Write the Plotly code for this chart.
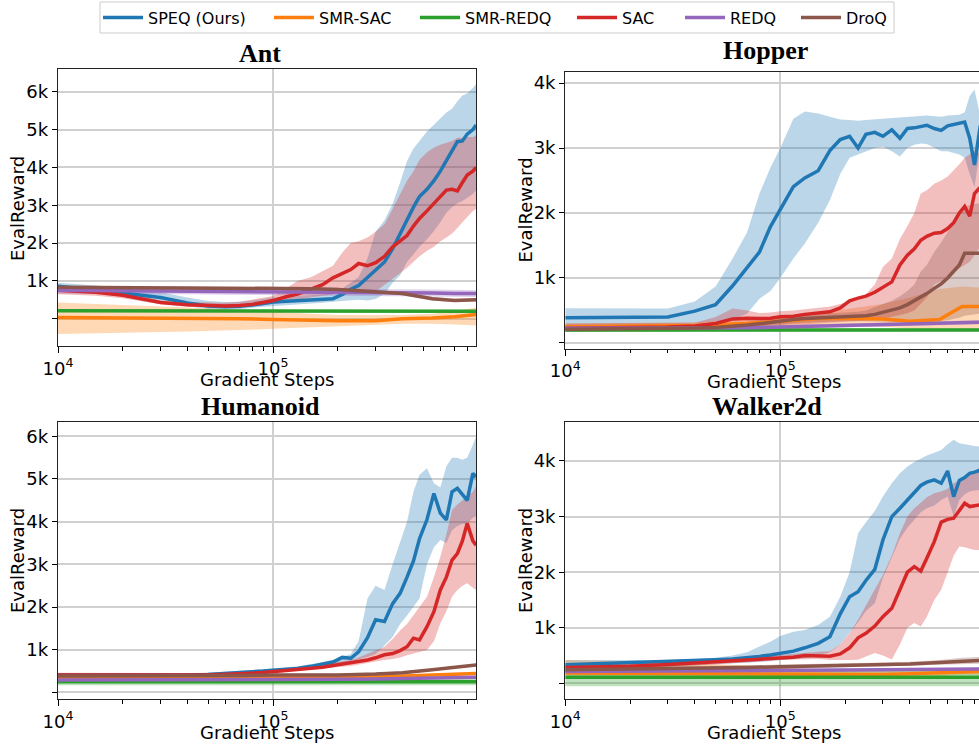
import plotly.graph_objects as go

# ---------------- data ----------------
SERIES = ["SPEQ (Ours)", "SMR-SAC", "SMR-REDQ", "SAC", "REDQ", "DroQ"]
COLORS = ["#1f77b4", "#ff7f0e", "#2ca02c", "#d62728", "#9467bd", "#8c564b"]
FILLS = ["rgba(31,119,180,0.3)", "rgba(255,127,14,0.3)", "rgba(44,160,44,0.3)",
         "rgba(214,39,40,0.3)", "rgba(148,103,189,0.3)", "rgba(140,86,75,0.3)"]
TITLES = ["Ant", "Hopper", "Humanoid", "Walker2d"]
X_TICKS = [10000, 100000]
X_TICKTEXT = ["10<sup>4</sup>", "10<sup>5</sup>"]
X_MINOR = [20000, 30000, 40000, 50000, 60000, 70000, 80000, 90000,
           200000, 300000, 400000, 500000, 600000, 700000, 800000]
Y_TICKS = [1000, 2000, 3000, 4000, 5000, 6000]
Y_TICKTEXT = ["1k", "2k", "3k", "4k", "5k", "6k"]
Y_UNLABELLED = [0]

STEPS_DENSE = [10000, 15000, 20000, 30000, 40000, 50000, 60000, 70000, 80000, 90000,
               100000, 115000, 130000, 150000, 170000, 190000, 210000, 230000, 250000,
               275000, 300000, 330000, 360000, 390000, 420000, 450000, 480000, 520000,
               560000, 600000, 640000, 680000, 720000, 760000, 800000, 850000, 880000]
STEPS_SPARSE = [10000, 20000, 40000, 70000, 100000, 150000, 200000, 300000,
                400000, 550000, 700000, 880000]

# ---- Ant ----
ANT_SPEQ = [860, 760, 680, 560, 420, 340, 320, 330, 360, 400, 440, 460, 480, 490, 510, 530, 640, 780, 880, 1100, 1300, 1500, 1850, 2250, 2600, 2950, 3230, 3420, 3650, 3900, 4180, 4450, 4680, 4700, 4880, 5000, 5120]
ANT_SPEQ_HI = [950, 880, 800, 700, 560, 470, 440, 450, 480, 520, 560, 580, 600, 620, 640, 700, 800, 950, 1100, 1600, 2300, 2600, 3030, 3600, 4170, 4500, 4700, 4950, 5130, 5300, 5450, 5550, 5750, 5900, 5950, 6100, 6200]
ANT_SPEQ_LO = [780, 700, 620, 450, 330, 260, 250, 260, 290, 320, 350, 370, 390, 400, 420, 450, 480, 490, 500, 480, 520, 660, 950, 1150, 1500, 1700, 1900, 2100, 2320, 2550, 2800, 2950, 3050, 3110, 3200, 3300, 3400]
ANT_SAC = [750, 700, 620, 430, 370, 350, 340, 350, 380, 430, 480, 580, 650, 780, 900, 1080, 1200, 1300, 1460, 1400, 1480, 1650, 1900, 2050, 2200, 2450, 2650, 2850, 3050, 3250, 3400, 3420, 3380, 3600, 3800, 3900, 4000]
ANT_SAC_HI = [850, 780, 700, 480, 440, 420, 420, 450, 500, 550, 600, 800, 1000, 1100, 1250, 1400, 1750, 2000, 2050, 2150, 2300, 2500, 2900, 3300, 3650, 3900, 4200, 4400, 4520, 4600, 4650, 4700, 4780, 4780, 4800, 4800, 4850]
ANT_SAC_LO = [650, 610, 540, 380, 320, 300, 290, 300, 320, 360, 400, 440, 480, 560, 600, 640, 680, 700, 700, 680, 720, 900, 1050, 1200, 1350, 1500, 1650, 1800, 1900, 2050, 2150, 2250, 2400, 2550, 2700, 2850, 2900]
ANT_DROQ = [830, 825, 820, 812, 805, 795, 775, 715, 665, 530, 485, 500]
ANT_DROQ_HI = [875, 870, 865, 857, 850, 840, 820, 760, 710, 575, 530, 545]
ANT_DROQ_LO = [785, 780, 775, 767, 760, 750, 730, 670, 620, 485, 440, 455]
ANT_REDQ = [750, 740, 735, 730, 725, 720, 710, 700, 690, 680, 670, 665]
ANT_REDQ_HI = [840, 830, 825, 820, 815, 810, 800, 790, 780, 770, 760, 755]
ANT_REDQ_LO = [660, 650, 645, 640, 635, 630, 620, 610, 600, 590, 580, 575]
ANT_SMRREDQ = [210, 205, 200, 200, 200, 200, 200, 200, 200, 200, 200, 200]
ANT_SMRREDQ_HI = [240, 235, 230, 230, 230, 230, 230, 230, 230, 230, 230, 230]
ANT_SMRREDQ_LO = [180, 175, 170, 170, 170, 170, 170, 170, 170, 170, 170, 170]
ANT_SMRSAC = [30, 25, 15, 0, -20, -40, -55, -50, 0, 20, 50, 110]
ANT_SMRSAC_HI = [430, 370, 300, 230, 175, 130, 100, 90, 100, 130, 200, 300]
ANT_SMRSAC_LO = [-400, -370, -340, -300, -265, -230, -200, -160, -130, -130, -150, -175]

# ---- Hopper ----
HOP_SPEQ = [390, 395, 390, 400, 490, 590, 880, 1150, 1400, 1790, 2050, 2405, 2540, 2650, 2960, 3130, 3180, 3000, 3210, 3240, 3180, 3280, 3150, 3300, 3310, 3330, 3350, 3300, 3270, 3340, 3360, 3380, 3400, 3150, 2740, 3330, 3350]
HOP_SPEQ_HI = [533, 535, 530, 530, 640, 870, 1300, 1700, 2300, 2700, 3000, 3450, 3560, 3530, 3480, 3440, 3430, 3420, 3430, 3440, 3450, 3460, 3470, 3480, 3490, 3500, 3500, 3490, 3480, 3500, 3500, 3510, 3550, 3800, 3900, 3500, 3500]
HOP_SPEQ_LO = [250, 260, 270, 280, 300, 330, 360, 450, 680, 800, 1000, 1300, 1530, 1850, 2200, 2600, 2850, 2900, 2950, 3000, 3020, 2950, 2870, 3000, 3050, 3070, 3060, 3000, 2950, 2950, 2920, 2900, 2850, 2600, 2400, 3000, 3050]
HOP_SAC = [225, 230, 235, 245, 260, 300, 370, 380, 375, 380, 405, 410, 440, 460, 480, 540, 650, 690, 720, 780, 850, 940, 1200, 1350, 1450, 1580, 1640, 1690, 1700, 1760, 1850, 2000, 2100, 1950, 2300, 2400, 2450]
HOP_SAC_HI = [300, 300, 305, 305, 310, 400, 530, 500, 460, 470, 490, 500, 520, 540, 560, 600, 640, 660, 750, 900, 1170, 1300, 1600, 1800, 2000, 2300, 2350, 2450, 2500, 2560, 2650, 2750, 2850, 2900, 2950, 2920, 2920]
HOP_SAC_LO = [175, 178, 180, 185, 190, 200, 230, 250, 260, 270, 280, 285, 290, 300, 310, 320, 330, 340, 345, 354, 370, 400, 430, 456, 500, 600, 700, 900, 950, 1000, 1080, 1150, 1200, 1250, 1350, 1480, 1500]
HOP_DROQ = [210, 212, 215, 220, 230, 240, 255, 275, 295, 320, 340, 360, 375, 385, 395, 400, 405, 410, 420, 440, 470, 500, 540, 590, 650, 710, 760, 840, 910, 1000, 1100, 1200, 1380, 1380, 1380, 1380, 1380]
HOP_DROQ_HI = [260, 262, 265, 270, 280, 290, 305, 325, 350, 380, 400, 420, 435, 445, 455, 465, 475, 480, 500, 550, 600, 650, 720, 800, 900, 1100, 1200, 1400, 1550, 1700, 1850, 2000, 2100, 2120, 2140, 2150, 2150]
HOP_DROQ_LO = [170, 172, 175, 178, 185, 195, 210, 225, 240, 260, 280, 300, 310, 320, 330, 335, 340, 340, 340, 340, 335, 330, 325, 322, 320, 320, 320, 330, 340, 350, 370, 390, 420, 430, 440, 455, 460]
HOP_SMRSAC = [250, 255, 270, 300, 330, 375, 380, 370, 335, 360, 560, 560]
HOP_SMRSAC_HI = [300, 305, 320, 360, 400, 480, 520, 600, 700, 830, 870, 850]
HOP_SMRSAC_LO = [200, 205, 215, 230, 250, 260, 260, 250, 220, 200, 180, 200]
HOP_REDQ = [225, 225, 228, 235, 245, 260, 270, 285, 295, 305, 312, 320]
HOP_REDQ_HI = [255, 255, 258, 265, 275, 290, 300, 315, 325, 335, 342, 350]
HOP_REDQ_LO = [195, 195, 198, 205, 215, 230, 240, 255, 265, 275, 282, 290]
HOP_SMRREDQ = [200, 200, 200, 200, 200, 200, 200, 200, 200, 200, 200, 200]
HOP_SMRREDQ_HI = [225, 225, 225, 225, 225, 225, 225, 225, 225, 225, 225, 225]
HOP_SMRREDQ_LO = [175, 175, 175, 175, 175, 175, 175, 175, 175, 175, 175, 175]

# ---- Humanoid ----
HUM_SPEQ = [406, 400, 398, 400, 405, 420, 440, 460, 480, 500, 520, 540, 560, 610, 660, 710, 820, 800, 950, 1280, 1700, 1660, 2080, 2320, 2700, 3080, 3600, 4050, 4660, 4200, 4040, 4700, 4780, 4650, 4500, 5130, 5050]
HUM_SPEQ_HI = [440, 440, 440, 440, 440, 460, 480, 500, 520, 540, 560, 580, 610, 660, 710, 760, 830, 900, 1200, 2200, 2500, 2400, 3000, 3500, 4000, 4700, 5100, 5250, 4900, 4800, 5300, 5500, 5500, 5450, 5500, 5800, 5990]
HUM_SPEQ_LO = [370, 370, 370, 370, 370, 385, 400, 420, 440, 460, 480, 500, 520, 540, 570, 600, 680, 720, 780, 830, 900, 1100, 1300, 1600, 1800, 2000, 2200, 3000, 3400, 3570, 3500, 3800, 3900, 3950, 3950, 4100, 4120]
HUM_SAC = [410, 405, 400, 400, 405, 410, 420, 435, 450, 465, 485, 510, 535, 560, 590, 630, 660, 690, 720, 760, 810, 880, 910, 980, 1070, 1270, 1230, 1540, 1890, 2400, 2700, 3100, 3250, 3550, 3960, 3550, 3450]
HUM_SAC_HI = [460, 455, 450, 450, 455, 460, 470, 485, 500, 510, 520, 560, 600, 640, 680, 710, 730, 760, 820, 900, 980, 1070, 1250, 1450, 1600, 1800, 2000, 2242, 2700, 3180, 3700, 4273, 4400, 4500, 4586, 4700, 4820]
HUM_SAC_LO = [360, 355, 350, 350, 355, 360, 370, 385, 400, 420, 440, 470, 500, 520, 550, 580, 600, 620, 650, 680, 720, 758, 780, 820, 870, 900, 950, 992, 1200, 1617, 1900, 2242, 2400, 2500, 2555, 2450, 2400]
HUM_DROQ = [383, 383, 385, 395, 406, 406, 410, 430, 460, 530, 580, 640]
HUM_DROQ_HI = [413, 413, 415, 425, 436, 436, 440, 460, 490, 560, 610, 670]
HUM_DROQ_LO = [353, 353, 355, 365, 376, 376, 380, 400, 430, 500, 550, 610]
HUM_SMRSAC = [328, 328, 330, 330, 335, 340, 345, 360, 380, 410, 430, 445]
HUM_SMRSAC_HI = [358, 358, 360, 360, 365, 370, 375, 390, 410, 440, 460, 475]
HUM_SMRSAC_LO = [298, 298, 300, 300, 305, 310, 315, 330, 350, 380, 400, 415]
HUM_REDQ = [290, 290, 290, 292, 295, 300, 305, 315, 325, 335, 345, 352]
HUM_REDQ_HI = [315, 315, 315, 317, 320, 325, 330, 340, 350, 360, 370, 377]
HUM_REDQ_LO = [265, 265, 265, 267, 270, 275, 280, 290, 300, 310, 320, 327]
HUM_SMRREDQ = [250, 250, 250, 250, 250, 250, 250, 250, 250, 250, 250, 250]
HUM_SMRREDQ_HI = [330, 330, 330, 330, 330, 330, 330, 330, 330, 330, 330, 330]
HUM_SMRREDQ_LO = [170, 170, 170, 170, 170, 170, 170, 170, 170, 170, 170, 170]

# ---- Walker2d ----
WAL_SPEQ = [335, 355, 370, 400, 415, 425, 440, 460, 485, 510, 545, 580, 640, 720, 840, 1250, 1560, 1650, 1850, 2050, 2580, 3000, 3150, 3300, 3420, 3560, 3620, 3660, 3600, 3820, 3360, 3650, 3700, 3780, 3800, 3840, 3850]
WAL_SPEQ_HI = [420, 420, 420, 420, 440, 460, 500, 560, 665, 750, 850, 930, 960, 1050, 1200, 1560, 2000, 2700, 2900, 3100, 3360, 3600, 3778, 3900, 3980, 4050, 4100, 4150, 4200, 4300, 4380, 4320, 4300, 4280, 4270, 4260, 4250]
WAL_SPEQ_LO = [250, 260, 270, 300, 320, 350, 360, 370, 380, 400, 420, 440, 450, 500, 560, 700, 900, 1100, 1300, 1440, 1900, 2281, 2600, 2800, 2950, 3080, 3150, 3200, 3300, 3360, 3000, 3300, 3400, 3450, 3470, 3480, 3480]
WAL_SAC = [287, 300, 310, 340, 365, 385, 400, 420, 435, 450, 460, 470, 500, 500, 490, 530, 640, 820, 900, 1030, 1200, 1350, 1680, 2000, 2100, 2020, 2250, 2550, 2900, 2950, 2970, 3100, 3240, 3180, 3200, 3210, 3220]
WAL_SAC_HI = [330, 340, 350, 380, 400, 420, 440, 455, 470, 490, 510, 530, 560, 570, 580, 700, 900, 1144, 1400, 1700, 1950, 2300, 2700, 3000, 3150, 3250, 3350, 3419, 3450, 3500, 3600, 3650, 3700, 3750, 3800, 3900, 3900]
WAL_SAC_LO = [250, 260, 270, 300, 320, 340, 360, 375, 400, 410, 420, 430, 440, 440, 420, 420, 420, 425, 480, 545, 500, 430, 700, 1000, 1084, 1024, 1200, 1500, 1683, 2000, 2300, 2461, 2450, 2420, 2400, 2400, 2400]
WAL_DROQ = [245, 255, 270, 285, 300, 310, 320, 335, 350, 375, 400, 415]
WAL_DROQ_HI = [285, 295, 310, 325, 340, 350, 360, 375, 390, 420, 460, 480]
WAL_DROQ_LO = [205, 215, 230, 245, 260, 270, 280, 295, 310, 330, 345, 355]
WAL_REDQ = [215, 218, 222, 226, 230, 235, 238, 243, 248, 252, 256, 258]
WAL_REDQ_HI = [240, 243, 247, 251, 255, 260, 263, 268, 273, 277, 281, 283]
WAL_REDQ_LO = [190, 193, 197, 201, 205, 210, 213, 218, 223, 227, 231, 233]
WAL_SMRSAC = [186, 180, 175, 170, 165, 160, 158, 160, 175, 195, 210, 215]
WAL_SMRSAC_HI = [420, 400, 360, 320, 280, 250, 240, 240, 250, 260, 270, 280]
WAL_SMRSAC_LO = [100, 100, 100, 100, 100, 100, 100, 100, 110, 130, 150, 150]
WAL_SMRREDQ = [108, 108, 108, 108, 108, 108, 108, 108, 108, 108, 108, 108]
WAL_SMRREDQ_HI = [230, 230, 230, 230, 230, 230, 230, 230, 230, 230, 230, 230]
WAL_SMRREDQ_LO = [-50, -50, -50, -50, -50, -50, -50, -50, -50, -50, -50, -50]

# per panel: list of (x, mean, lo, hi) in SERIES order
PANEL_DATA = [
    [(STEPS_DENSE, ANT_SPEQ, ANT_SPEQ_LO, ANT_SPEQ_HI),
     (STEPS_SPARSE, ANT_SMRSAC, ANT_SMRSAC_LO, ANT_SMRSAC_HI),
     (STEPS_SPARSE, ANT_SMRREDQ, ANT_SMRREDQ_LO, ANT_SMRREDQ_HI),
     (STEPS_DENSE, ANT_SAC, ANT_SAC_LO, ANT_SAC_HI),
     (STEPS_SPARSE, ANT_REDQ, ANT_REDQ_LO, ANT_REDQ_HI),
     (STEPS_SPARSE, ANT_DROQ, ANT_DROQ_LO, ANT_DROQ_HI)],
    [(STEPS_DENSE, HOP_SPEQ, HOP_SPEQ_LO, HOP_SPEQ_HI),
     (STEPS_SPARSE, HOP_SMRSAC, HOP_SMRSAC_LO, HOP_SMRSAC_HI),
     (STEPS_SPARSE, HOP_SMRREDQ, HOP_SMRREDQ_LO, HOP_SMRREDQ_HI),
     (STEPS_DENSE, HOP_SAC, HOP_SAC_LO, HOP_SAC_HI),
     (STEPS_SPARSE, HOP_REDQ, HOP_REDQ_LO, HOP_REDQ_HI),
     (STEPS_DENSE, HOP_DROQ, HOP_DROQ_LO, HOP_DROQ_HI)],
    [(STEPS_DENSE, HUM_SPEQ, HUM_SPEQ_LO, HUM_SPEQ_HI),
     (STEPS_SPARSE, HUM_SMRSAC, HUM_SMRSAC_LO, HUM_SMRSAC_HI),
     (STEPS_SPARSE, HUM_SMRREDQ, HUM_SMRREDQ_LO, HUM_SMRREDQ_HI),
     (STEPS_DENSE, HUM_SAC, HUM_SAC_LO, HUM_SAC_HI),
     (STEPS_SPARSE, HUM_REDQ, HUM_REDQ_LO, HUM_REDQ_HI),
     (STEPS_SPARSE, HUM_DROQ, HUM_DROQ_LO, HUM_DROQ_HI)],
    [(STEPS_DENSE, WAL_SPEQ, WAL_SPEQ_LO, WAL_SPEQ_HI),
     (STEPS_SPARSE, WAL_SMRSAC, WAL_SMRSAC_LO, WAL_SMRSAC_HI),
     (STEPS_SPARSE, WAL_SMRREDQ, WAL_SMRREDQ_LO, WAL_SMRREDQ_HI),
     (STEPS_DENSE, WAL_SAC, WAL_SAC_LO, WAL_SAC_HI),
     (STEPS_SPARSE, WAL_REDQ, WAL_REDQ_LO, WAL_REDQ_HI),
     (STEPS_SPARSE, WAL_DROQ, WAL_DROQ_LO, WAL_DROQ_HI)],
]

# ---------------- layout geometry ----------------
W, H = 979, 746
def px(xp):
    return xp / W
def py(yp):
    return 1 - yp / H

# (left, right, top, bottom) in pixels; y ranges; x ranges (log10)
BOXES = [(58, 476, 69, 346), (565.3, 979, 71.7, 348.7),
         (58, 476, 422.3, 699), (565.3, 979, 422.3, 699)]
Y_RANGES = [[-720, 6600], [-88, 4174], [-155, 6328], [-281, 4696]]
X_RANGES = [[4, 5.944], [4, 5.924], [4, 5.944], [4, 5.924]]
LEGEND_NAMES = ["legend", "legend2", "legend3", "legend4", "legend5", "legend6"]
LEGEND_LINE_X = [104, 275, 421, 578, 686, 802]   # pixel x of each legend key
LEGEND_BOX = (100, 894, 2, 33)

fig = go.Figure()
for p in range(4):
    xa = "x" if p == 0 else f"x{p+1}"
    ya = "y" if p == 0 else f"y{p+1}"
    # shaded bands first
    for s, (xs, mean, lo, hi) in enumerate(PANEL_DATA[p]):
        fig.add_trace(go.Scatter(
            x=list(xs) + list(xs)[::-1], y=list(hi) + list(lo)[::-1],
            fill="toself", fillcolor=FILLS[s], line=dict(width=0),
            mode="lines", hoverinfo="skip", showlegend=False,
            xaxis=xa, yaxis=ya))
    # mean lines on top
    for s, (xs, mean, lo, hi) in enumerate(PANEL_DATA[p]):
        fig.add_trace(go.Scatter(
            x=xs, y=mean, mode="lines", name=SERIES[s],
            line=dict(color=COLORS[s], width=3.5),
            showlegend=(p == 0), legendgroup=SERIES[s],
            legend=LEGEND_NAMES[s], xaxis=xa, yaxis=ya))

tickfont = dict(family="DejaVu Sans", size=18, color="black")
layout = dict(width=W, height=H,
              margin=dict(l=0, r=0, t=0, b=0, pad=0, autoexpand=False),
              paper_bgcolor="white", plot_bgcolor="white",
              font=dict(family="DejaVu Sans", color="black"))
for p in range(4):
    l, r, t, b = BOXES[p]
    sfx = "" if p == 0 else str(p + 1)
    right_col = p in (1, 3)
    layout["xaxis" + sfx] = dict(
        type="log", domain=[px(l), px(r)], range=X_RANGES[p],
        anchor="y" + sfx, tickvals=X_TICKS, ticktext=X_TICKTEXT,
        ticks="outside", ticklen=6, tickwidth=1.2, tickcolor="black",
        minor=dict(tickvals=X_MINOR, ticks="outside", ticklen=3.5,
                   tickwidth=1, tickcolor="black", showgrid=False),
        showgrid=True, gridcolor="#d0d0d0", gridwidth=1.5,
        showline=True, linecolor="#222222", linewidth=1.3, mirror=True,
        zeroline=False, tickfont=tickfont, fixedrange=True, automargin=False)
    layout["yaxis" + sfx] = dict(
        domain=[py(b), py(t)], range=Y_RANGES[p], anchor="x" + sfx,
        tickvals=Y_TICKS, ticktext=Y_TICKTEXT,
        ticks="outside", ticklen=5, tickwidth=1.2, tickcolor="black",
        minor=dict(tickvals=Y_UNLABELLED, ticks="outside", ticklen=5,
                   tickwidth=1.2, tickcolor="black", showgrid=True,
                   gridcolor="#d0d0d0", gridwidth=1.5),
        showgrid=True, gridcolor="#d0d0d0", gridwidth=1.5,
        showline=True, linecolor="#222222", linewidth=1.3,
        mirror=(not right_col), zeroline=False, tickfont=tickfont,
        fixedrange=True, automargin=False)

annotations = []
TITLE_POS = [(260, 53), (765.5, 50), (260, 406.5), (767, 406.5)]
XLAB_POS = [(267, 379), (774, 381.5), (267, 732), (774, 732)]
YLAB_POS = [(17.5, 208.5), (525.5, 210), (17.5, 560.5), (525.5, 560.5)]
for p in range(4):
    tx, ty = TITLE_POS[p]
    annotations.append(dict(text="<b>" + TITLES[p] + "</b>", x=px(tx), y=py(ty),
                            xref="paper", yref="paper", showarrow=False,
                            xanchor="center", yanchor="middle",
                            font=dict(family="Liberation Serif", size=26, color="black")))
    lx, ly = XLAB_POS[p]
    annotations.append(dict(text="Gradient Steps", x=px(lx), y=py(ly),
                            xref="paper", yref="paper", showarrow=False,
                            xanchor="center", yanchor="middle",
                            font=dict(family="DejaVu Sans", size=18, color="black")))
    vx, vy = YLAB_POS[p]
    annotations.append(dict(text="EvalReward", x=px(vx), y=py(vy), textangle=-90,
                            xref="paper", yref="paper", showarrow=False,
                            xanchor="center", yanchor="middle",
                            font=dict(family="DejaVu Sans", size=18, color="black")))
layout["annotations"] = annotations

# legend frame (one box holding the six legend entries)
bx0, bx1, by0, by1 = LEGEND_BOX
layout["shapes"] = [dict(type="rect", xref="paper", yref="paper",
                         x0=px(bx0), x1=px(bx1), y0=py(by1), y1=py(by0),
                         line=dict(color="#cccccc", width=1), fillcolor="white",
                         layer="above")]
for s, name in enumerate(LEGEND_NAMES):
    layout[name] = dict(orientation="h", xref="container", yref="container",
                        x=px(LEGEND_LINE_X[s] - 6), y=py((by0 + by1) / 2),
                        xanchor="left", yanchor="middle", itemwidth=40,
                        bgcolor="rgba(0,0,0,0)", borderwidth=0,
                        font=dict(family="DejaVu Sans", size=16, color="black"))
fig.update_layout(**layout)
fig.write_html("out.html", config={"displayModeBar": False},
               post_script="document.body.style.margin='0px';"
                           "document.body.style.padding='0px';")
